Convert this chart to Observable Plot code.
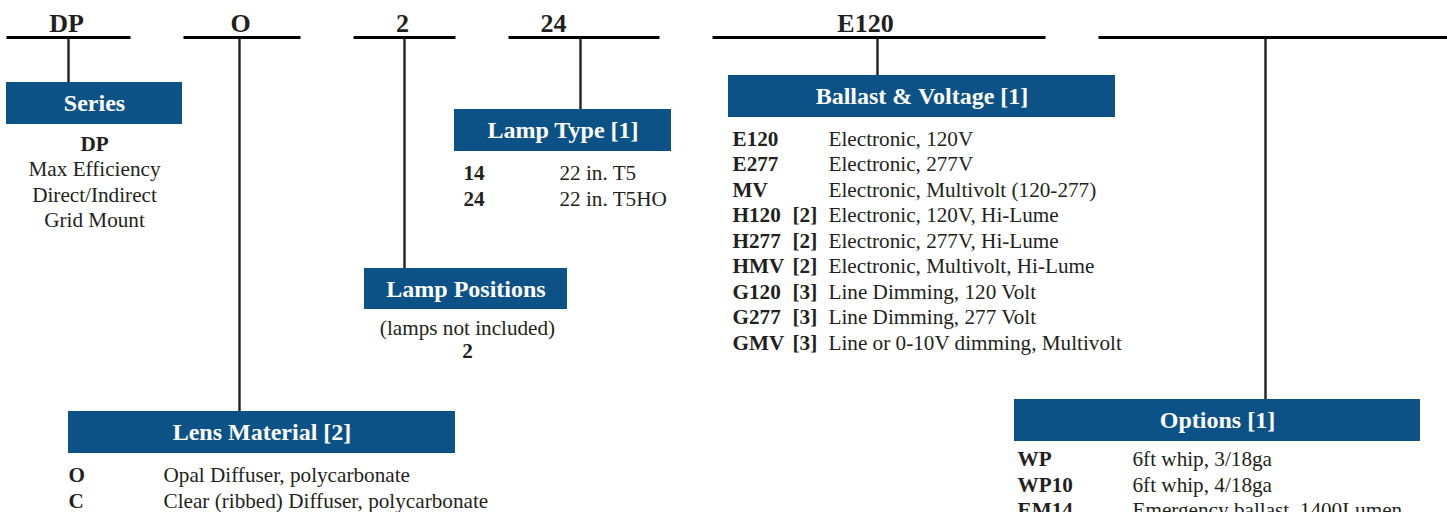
<!DOCTYPE html>
<html>
<head>
<meta charset="utf-8">
<script src="https://cdn.jsdelivr.net/npm/d3@7"></script>
<script src="https://cdn.jsdelivr.net/npm/@observablehq/plot@0.6"></script>
<style>
  html, body { margin: 0; padding: 0; background: #fff; }
  #chart svg { display: block; }
</style>
</head>
<body>
<div id="chart"></div>
<script>
// ---- content (text values) ----
const segmentCodes = ["DP", "O", "2", "24", "E120", ""];
const boxTitles = ["Series", "Lens Material [2]", "Lamp Positions", "Lamp Type [1]", "Ballast & Voltage [1]", "Options [1]"];

const seriesLines = ["DP", "Max Efficiency", "Direct/Indirect", "Grid Mount"];
const seriesBold = [true, false, false, false];

const lensCodes = ["O", "C"];
const lensDescs = ["Opal Diffuser, polycarbonate", "Clear (ribbed) Diffuser, polycarbonate"];

const lampPosLines = ["(lamps not included)", "2"];
const lampPosBold = [false, true];

const lampTypeCodes = ["14", "24"];
const lampTypeDescs = ["22 in. T5", "22 in. T5HO"];

const ballastCodes = ["E120", "E277", "MV", "H120", "H277", "HMV", "G120", "G277", "GMV"];
const ballastNotes = ["", "", "", "[2]", "[2]", "[2]", "[3]", "[3]", "[3]"];
const ballastDescs = [
  "Electronic, 120V", "Electronic, 277V", "Electronic, Multivolt (120-277)",
  "Electronic, 120V, Hi-Lume", "Electronic, 277V, Hi-Lume", "Electronic, Multivolt, Hi-Lume",
  "Line Dimming, 120 Volt", "Line Dimming, 277 Volt", "Line or 0-10V dimming, Multivolt"
];

const optionCodes = ["WP", "WP10", "EM14"];
const optionDescs = ["6ft whip, 3/18ga", "6ft whip, 4/18ga", "Emergency ballast, 1400Lumen"];

// ---- layout (positions / styles) ----
const W = 1447, H = 512;
const ink = "#231f20", blue = "#0c5287";
const serif = "'Liberation Serif', 'Times New Roman', Times, serif";
const bodySize = 21.2, titleSize = 24, headSize = 26;
const rowStep = 25.5;
const lineY = 37;

const segLayout = [
  {x1: 6,    x2: 130,  labelX: 66,  stemX: 68,   stemY2: 82},
  {x1: 183,  x2: 300,  labelX: 240, stemX: 239,  stemY2: 411},
  {x1: 353,  x2: 455,  labelX: 402, stemX: 404,  stemY2: 268},
  {x1: 508,  x2: 659,  labelX: 553, stemX: 580,  stemY2: 109},
  {x1: 712,  x2: 1045, labelX: 865, stemX: 877,  stemY2: 75},
  {x1: 1098, x2: 1447, labelX: 1270, stemX: 1265, stemY2: 399}
];
const boxLayout = [
  {x1: 6,    x2: 182,  y1: 82,  y2: 124},
  {x1: 68,   x2: 455,  y1: 411, y2: 453},
  {x1: 364,  x2: 567,  y1: 268, y2: 309},
  {x1: 454,  x2: 671,  y1: 109, y2: 151},
  {x1: 728,  x2: 1115, y1: 75,  y2: 117},
  {x1: 1014, x2: 1420, y1: 399, y2: 441}
];

// ---- tables built from the arrays ----
const segments = segmentCodes.map((code, i) => ({code, ...segLayout[i]}));
const boxes = boxTitles.map((title, i) => ({title, ...boxLayout[i]}));

const listRows = [];
function addList(codes, descs, codeX, descX, y0, notes, noteX) {
  codes.forEach((c, i) => {
    const y = y0 + i * rowStep;
    listRows.push({text: c, x: codeX, y, bold: true});
    if (notes && notes[i]) listRows.push({text: notes[i], x: noteX, y, bold: true});
    listRows.push({text: descs[i], x: descX, y, bold: false});
  });
}
addList(lensCodes, lensDescs, 68, 163, 481.5);
addList(lampTypeCodes, lampTypeDescs, 463, 559, 179.5);
addList(ballastCodes, ballastDescs, 732, 828, 145, ballastNotes, 792);
addList(optionCodes, optionDescs, 1017, 1132, 465.5);

const centeredRows = [
  ...seriesLines.map((t, i) => ({text: t, x: 94, y: 150 + i * rowStep, bold: seriesBold[i]})),
  ...lampPosLines.map((t, i) => ({text: t, x: 467, y: 334 + i * 23.5, bold: lampPosBold[i]}))
];

const chart = Plot.plot({
  width: W,
  height: H,
  margin: 0,
  x: {domain: [0, W], range: [0, W], axis: null},
  y: {domain: [0, H], range: [0, H], axis: null},
  style: {background: "#fff", fontFamily: serif},
  marks: [
    // stems
    Plot.link(segments, {x1: "stemX", x2: "stemX", y1: lineY, y2: "stemY2", stroke: ink, strokeWidth: 2.4}),
    // top lines
    Plot.link(segments, {x1: "x1", x2: "x2", y1: lineY, y2: lineY, stroke: "#000", strokeWidth: 2.8}),
    // header codes
    Plot.text(segments, {x: "labelX", y: 31.5, text: "code", fontSize: headSize, fontWeight: "bold", fill: ink, lineAnchor: "bottom", textAnchor: "middle", fontFamily: serif}),
    // title boxes
    Plot.rect(boxes, {x1: "x1", x2: "x2", y1: "y1", y2: "y2", fill: blue}),
    Plot.text(boxes, {x: d => (d.x1 + d.x2) / 2, y: d => (d.y1 + d.y2) / 2, text: "title", fill: "#fff", fontSize: titleSize, fontWeight: "bold", lineAnchor: "middle", textAnchor: "middle", fontFamily: serif}),
    // list rows
    Plot.text(listRows.filter(d => d.bold), {x: "x", y: "y", text: "text", fill: ink, fontSize: bodySize, fontWeight: "bold", textAnchor: "start", lineAnchor: "bottom", fontFamily: serif}),
    Plot.text(listRows.filter(d => !d.bold), {x: "x", y: "y", text: "text", fill: ink, fontSize: bodySize, textAnchor: "start", lineAnchor: "bottom", fontFamily: serif}),
    // centered rows
    Plot.text(centeredRows.filter(d => d.bold), {x: "x", y: "y", text: "text", fill: ink, fontSize: bodySize, fontWeight: "bold", textAnchor: "middle", lineAnchor: "bottom", fontFamily: serif}),
    Plot.text(centeredRows.filter(d => !d.bold), {x: "x", y: "y", text: "text", fill: ink, fontSize: bodySize, textAnchor: "middle", lineAnchor: "bottom", fontFamily: serif})
  ]
});
document.getElementById("chart").appendChild(chart);
</script>
</body>
</html>
